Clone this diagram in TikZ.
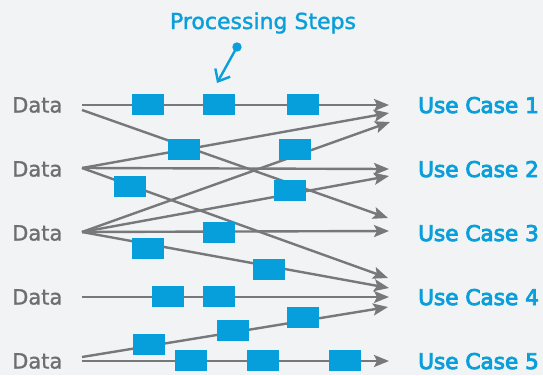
\documentclass[tikz,border=0pt]{standalone}
\usepackage{fontspec}
\setmainfont{DejaVu Sans}
\newfontfamily\ucfont[FakeBold=4]{DejaVu Sans}
\newfontfamily\datafont[FakeBold=1.5]{DejaVu Sans}
\usetikzlibrary{arrows.meta}
\definecolor{bg}{HTML}{F2F3F5}
\definecolor{ln}{HTML}{77787B}
\definecolor{txtgray}{HTML}{6D6E71}
\definecolor{accent}{HTML}{0A9FDA}
\definecolor{boxblue}{HTML}{079FDB}
\begin{document}
\begin{tikzpicture}[x=1pt,y=-1pt,
  flow/.style={draw=ln, line width=2.4pt, -{Stealth[length=15pt,width=12pt,inset=3pt]}},
  stepbox/.style={fill=boxblue, minimum width=32pt, minimum height=21pt, inner sep=0pt},
  datalbl/.style={text=txtgray, font=\datafont\fontsize{21}{24}\selectfont, anchor=base west, inner sep=0pt},
  uclbl/.style={text=accent, font=\ucfont\fontsize{21.6}{24}\selectfont, anchor=base west, inner sep=0pt},
  pointer/.style={draw=accent, line width=2.4pt, -{Straight Barb[length=10pt,width=17pt]}},
]
\fill[bg] (0,0) rectangle (543,375);
\useasboundingbox (0,0) rectangle (543,375);

% labels
\node[datalbl] (d1) at (12,112.5) {Data};
\node[datalbl] (d2) at (12,176.5) {Data};
\node[datalbl] (d3) at (12,240.5) {Data};
\node[datalbl] (d4) at (12,304.5) {Data};
\node[datalbl] (d5) at (12,368.5) {Data};
\node[uclbl] (u1) at (418,113) {Use Case 1};
\node[uclbl] (u2) at (418,177) {Use Case 2};
\node[uclbl] (u3) at (418,241) {Use Case 3};
\node[uclbl] (u4) at (418,305) {Use Case 4};
\node[uclbl] (u5) at (418,369) {Use Case 5};
\node[text=accent, font=\datafont\fontsize{22}{26}\selectfont, anchor=base, inner sep=0pt] (ps) at (263,29) {Processing Steps};

% start points
\coordinate (s1a) at (82,105);
\coordinate (s1b) at (82,110);
\coordinate (s2) at (82,168);
\coordinate (s3) at (82,232);
\coordinate (s4) at (82,297);
\coordinate (s5a) at (82,357);
\coordinate (s5b) at (82,361);
% end points
\coordinate (e1a) at (389,105);
\coordinate (e1b) at (389,113);
\coordinate (e1c) at (390,122);
\coordinate (e2a) at (389,169);
\coordinate (e2b) at (389,176);
\coordinate (e3a) at (388,218);
\coordinate (e3b) at (389,231);
\coordinate (e4a) at (388,278);
\coordinate (e4b) at (389,288);
\coordinate (e4c) at (389,297);
\coordinate (e4d) at (388,307);
\coordinate (e5) at (389,361);

\draw[flow] (s1a) -- (e1a);
\draw[flow] (s1b) -- (e3a);
\draw[flow] (s2) -- (e1b);
\draw[flow] (s2) -- (e2a);
\draw[flow] (s2) -- (e4a);
\draw[flow] (s3) -- (e1c);
\draw[flow] (s3) -- (e2b);
\draw[flow] (s3) -- (e3b);
\draw[flow] (s3) -- (e4b);
\draw[flow] (s4) -- (e4c);
\draw[flow] (s5a) -- (e4d);
\draw[flow] (s5b) -- (e5);

% processing steps
\node[stepbox] (b1) at (148,104.5) {};
\node[stepbox] (b2) at (219,104.5) {};
\node[stepbox] (b3) at (303,104.5) {};
\node[stepbox] (b4) at (184,149.5) {};
\node[stepbox] (b5) at (295,149.5) {};
\node[stepbox] (b6) at (130,186.5) {};
\node[stepbox] (b7) at (290,190.5) {};
\node[stepbox] (b8) at (219,232) {};
\node[stepbox] (b9) at (148,248.5) {};
\node[stepbox] (b10) at (269,269.5) {};
\node[stepbox] (b11) at (168,296.5) {};
\node[stepbox] (b12) at (219,296.5) {};
\node[stepbox] (b13) at (149,344.5) {};
\node[stepbox] (b14) at (233,330.5) {};
\node[stepbox] (b15) at (303,317.5) {};
\node[stepbox] (b16) at (191,360.5) {};
\node[stepbox] (b17) at (263,360.5) {};
\node[stepbox] (b18) at (345,360.5) {};

% pointer
\coordinate (pt) at (217,83);
\fill[accent] (237,47) circle (4.7pt) coordinate (dot);
\draw[pointer] (dot) -- (pt);
\end{tikzpicture}
\end{document}
